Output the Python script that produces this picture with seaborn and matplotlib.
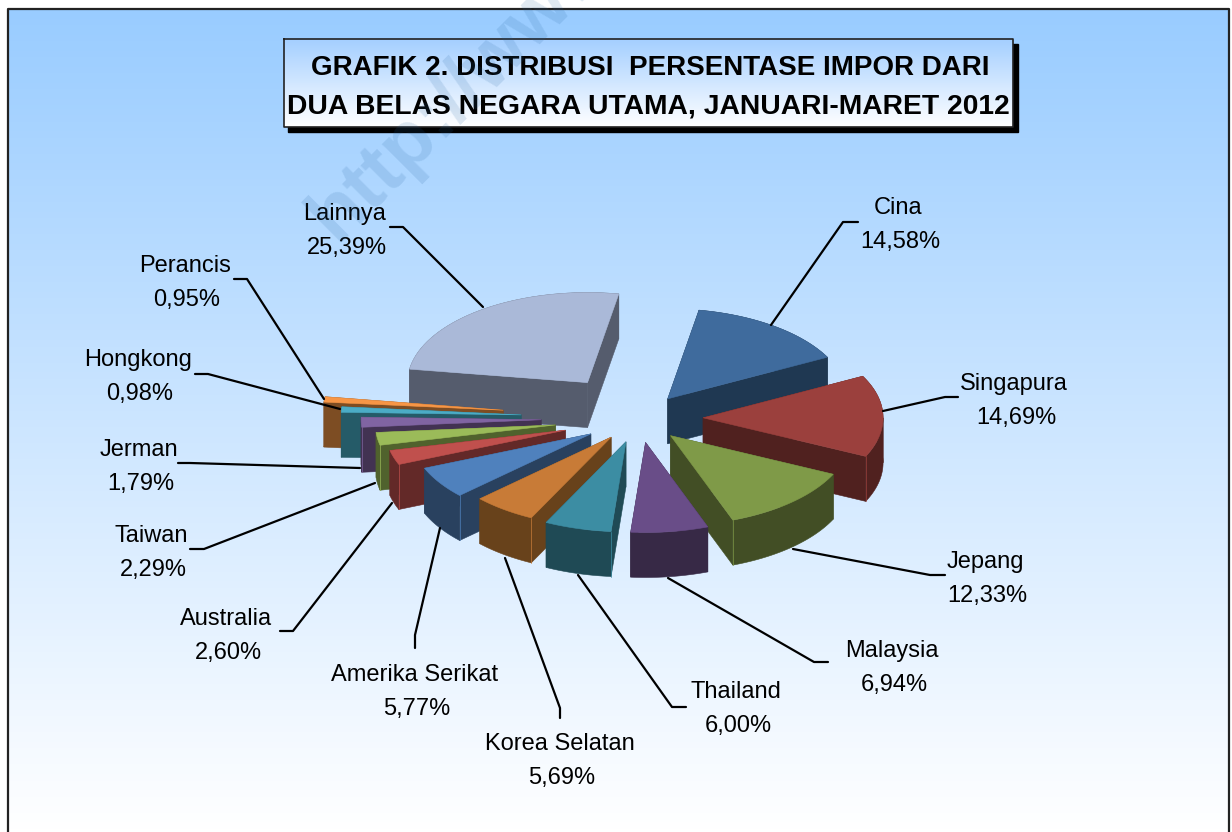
"""
Grafik 2 - distribusi persentase impor, exploded 3D-style pie
Outputs: out.png
"""

import numpy as np
import matplotlib.pyplot as plt
from matplotlib.colors import LinearSegmentedColormap
import seaborn as sns

# data
negara = ["Cina", "Singapura", "Jepang", "Malaysia", "Thailand", "Korea Selatan",
          "Amerika Serikat", "Australia", "Taiwan", "Jerman", "Hongkong", "Perancis", "Lainnya"]
persen = [14.58, 14.69, 12.33, 6.94, 6.00, 5.69, 5.77, 2.60, 2.29, 1.79, 0.98, 0.95, 25.39]

# style
warna_atas = ["#3F6B9D", "#9B403D", "#7F9A48", "#694D88", "#3C8DA3", "#C87B37", "#4F81BD",
              "#C0504D", "#9BBB59", "#8064A2", "#4BACC6", "#F79646", "#AAB9D8"]
warna_sisi = ["#1F3852", "#50211F", "#424E25", "#372946", "#1F4A55", "#68421B", "#29415F",
              "#632928", "#50622D", "#423252", "#255B68", "#7D4D23", "#555C6D"]
explode = [0.27, 0.356, 0.26, 0.27, 0.27, 0.26, 0.318, 0.43, 0.47, 0.544, 0.656, 0.76, 0.49]

# layout, in pixels of the 1232x832 picture
CX, CY = 639, 418.4
RX, RY = 180, 90
DEPTH = 45
START = 10
label_pos = [(898, 207), (1014, 383), (985, 561), (892, 650), (736, 691), (560, 743), (415, 674),
             (226, 618), (151, 535), (139, 449), (138, 359), (185, 265), (345, 213)]
leaders = [
    [(771, 325), (843, 222), (858, 222)],
    [(883, 411), (945, 397), (958, 397)],
    [(793, 549), (930, 575), (945, 575)],
    [(668, 578), (814, 662), (828, 662)],
    [(578, 575), (672, 707), (686, 707)],
    [(505, 558), (560, 708), (560, 718)],
    [(440, 528), (415, 635), (415, 648)],
    [(392, 503), (293, 631), (280, 631)],
    [(375, 483), (204, 549), (190, 549)],
    [(360, 468), (190, 463), (178, 463)],
    [(340, 409), (208, 374), (195, 374)],
    [(324, 399), (247, 279), (234, 279)],
    [(483, 307), (403, 227), (390, 227)],
]

sns.set_theme(style="white")
plt.rcParams["font.family"] = ["Liberation Sans", "DejaVu Sans"]

fig = plt.figure(figsize=(12.32, 8.32), dpi=100, facecolor="white")
ax = fig.add_axes([0, 0, 1, 1])

# background panel
bg = LinearSegmentedColormap.from_list("bg", ["#99CCFF", "#FFFFFF"])
grad = np.linspace(0, 1, 256).reshape(-1, 1)
ax.imshow(grad, cmap=bg, extent=[8, 1229, 832, 9], aspect="auto", zorder=0)
ax.plot([8, 8, 1229, 1229], [832, 9, 9, 832], color="#222222", lw=1.6, zorder=1)

# title box
ax.fill([288, 1018, 1018, 288], [44, 44, 132, 132], color="black", zorder=2)
box = LinearSegmentedColormap.from_list("box", ["#A4CFFF", "#FFFFFF"])
ax.imshow(grad, cmap=box, extent=[284, 1013, 127, 39], aspect="auto", zorder=3)
ax.plot([284, 1013, 1013, 284, 284], [39, 39, 127, 127, 39], color="#222222", lw=1.2, zorder=4)
ax.text(650, 68, "GRAFIK 2. DISTRIBUSI  PERSENTASE IMPOR DARI", ha="center", va="center",
        fontsize=20, fontweight="bold", color="black", zorder=5)
ax.text(648, 107, "DUA BELAS NEGARA UTAMA, JANUARI-MARET 2012", ha="center", va="center",
        fontsize=20.3, fontweight="bold", color="black", zorder=5)

# slices, back to front
batas = START + np.concatenate([[0], np.cumsum(persen)]) * 3.6
tengah = (batas[:-1] + batas[1:]) / 2
ax_x = CX + np.array(explode) * RX * np.sin(np.radians(tengah))
ax_y = CY - np.array(explode) * RY * np.cos(np.radians(tengah))


def rim(i, t):
    return ax_x[i] + RX * np.sin(np.radians(t)), ax_y[i] - RY * np.cos(np.radians(t))


def wall_seen(i, b, other):
    # radial wall shows when the rest of the slice lies above that edge
    ex, ey = rim(i, b)[0] - ax_x[i], rim(i, b)[1] - ax_y[i]
    mx, my = rim(i, other)[0] - ax_x[i], rim(i, other)[1] - ax_y[i]
    return my < ey / ex * mx


z = 10
for i in np.argsort(ax_y):
    t0, t1 = batas[i], batas[i + 1]
    # outer wall, cut where the rim turns back so no piece crosses itself
    cuts = [t0] + [c for c in (90, 270) if t0 < c < t1] + [t1]
    for a, b in zip(cuts[:-1], cuts[1:]):
        px, py = rim(i, np.linspace(a, b, 40))
        ax.fill(np.concatenate([px, px[::-1]]), np.concatenate([py, py[::-1] + DEPTH]),
                color=warna_sisi[i], lw=0.4, zorder=z)
    rx, ry = rim(i, np.linspace(t0, t1, 60))
    for px, py in ((rx[0], ry[0]), (rx[-1], ry[-1])):
        ax.fill([ax_x[i], px, px, ax_x[i]], [ax_y[i], py, py + DEPTH, ax_y[i] + DEPTH],
                color=warna_sisi[i], lw=0.4, zorder=z)
    ax.fill(np.concatenate([[ax_x[i]], rx]), np.concatenate([[ax_y[i]], ry]),
            color=warna_atas[i], lw=0.4, zorder=z + 1)
    # thin light line on the corner between visible walls
    for b, other in ((t0, t1), (t1, t0)):
        if 90 < b % 360 < 270 and wall_seen(i, b, other):
            px, py = rim(i, b)
            ax.plot([px, px], [py, py + DEPTH], color=warna_atas[i], lw=0.7, alpha=0.7, zorder=z + 1)
    z += 2

# leader lines and labels
for i, pts in enumerate(leaders):
    lx = [p[0] for p in pts]
    ly = [p[1] for p in pts]
    sns.lineplot(x=lx, y=ly, sort=False, estimator=None, color="black", lw=1.6, ax=ax, zorder=60)
for nama, nilai, (tx, ty) in zip(negara, persen, label_pos):
    ax.text(tx, ty + 1, nama, ha="center", va="center", fontsize=17, color="black", zorder=61)
    ax.text(tx + 2, ty + 35, f"{nilai:.2f}%".replace(".", ","), ha="center", va="center",
            fontsize=17, color="black", zorder=61)

# watermark
ax.text(322, 228, "http://www", rotation=45, rotation_mode="anchor", ha="left", va="center",
        fontsize=56, fontweight="bold", color="#2060A0", alpha=0.14, zorder=70)

ax.set_xlim(0, 1232)
ax.set_ylim(832, 0)
sns.despine(ax=ax, left=True, bottom=True)
ax.axis("off")

plt.savefig("out.png", dpi=100)
plt.close()
